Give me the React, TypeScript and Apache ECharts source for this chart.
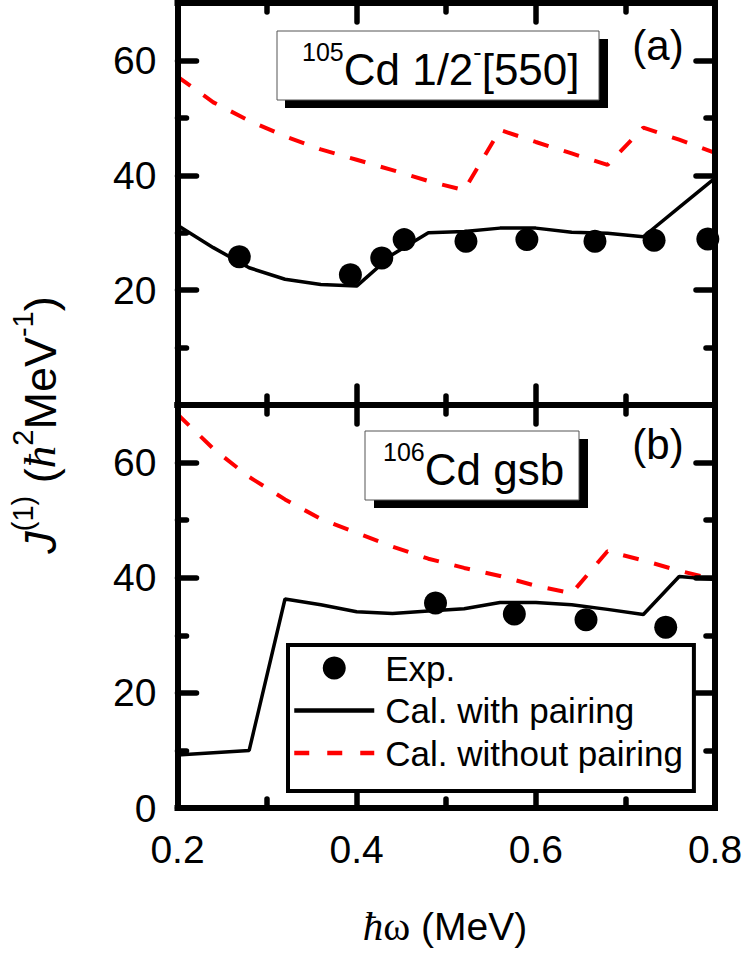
import React, { useEffect, useRef } from 'react';
import * as echarts from 'echarts';

// rotational frequency (MeV) of the calculated points
const omega = [0.20, 0.24, 0.28, 0.32, 0.36, 0.40, 0.44, 0.48, 0.52, 0.56, 0.60, 0.64, 0.68, 0.72, 0.76, 0.80];

// (a) 105Cd 1/2-[550]
const calPairA = [31.3, 27.4, 23.9, 21.9, 21.0, 20.7, 26.2, 30.0, 30.2, 30.8, 30.8, 30.1, 29.9, 29.3, 34.4, 39.5];
const calNoPairA = [57.2, 52.7, 49.5, 46.8, 44.5, 42.7, 40.9, 39.0, 37.4, 47.9, 45.8, 43.8, 41.8, 48.3, 46.2, 43.9];
const expOmegaA = [0.269, 0.393, 0.428, 0.453, 0.522, 0.590, 0.666, 0.732, 0.792];
const expJA = [25.8, 22.7, 25.6, 28.8, 28.5, 28.8, 28.5, 28.7, 28.9];

// (b) 106Cd gsb
const calPairB = [9.2, 9.6, 10.0, 36.3, 35.3, 34.1, 33.8, 34.2, 34.6, 35.7, 35.7, 35.3, 34.5, 33.6, 40.2, 39.7];
const calNoPairB = [68.4, 62.4, 57.5, 53.6, 50.2, 47.8, 45.4, 43.3, 41.7, 40.3, 38.6, 37.3, 44.6, 43.0, 41.2, 39.7];
const expOmegaB = [0.488, 0.576, 0.656, 0.745];
const expJB = [35.6, 33.7, 32.7, 31.4];

// ticks
const xMajor = [0.2, 0.4, 0.6, 0.8];
const xMinor = [0.3, 0.5, 0.7];
const yMajor = [0, 20, 40, 60];
const yMinor = [10, 30, 50];
const yLabelsA = [20, 40, 60];
const yLabelsB = [0, 20, 40, 60];

const seriesNames = ['Exp.', 'Cal. with pairing', 'Cal. without pairing'];

const FONT = "'Liberation Sans', Arial, sans-serif";
const SERIF = "'Liberation Serif', 'Times New Roman', serif";

const AXIS_W = 6;

function xAxisOf(g: number, pos: string, major: boolean, labels: boolean) {
  return {
    gridIndex: g,
    type: 'value',
    position: pos,
    min: 0.2,
    max: 0.8,
    z: major ? 10 : 9,
    axisLine: { show: major, onZero: false, lineStyle: { color: '#000', width: AXIS_W, cap: 'square' } },
    axisTick: {
      show: true,
      inside: true,
      length: major ? 19 : 9,
      customValues: major ? xMajor : xMinor,
      lineStyle: { color: '#000', width: 5.5, cap: 'round' },
    },
    axisLabel: {
      show: labels,
      customValues: xMajor,
      formatter: (v: number) => v.toFixed(1),
      fontSize: 39,
      color: '#000',
      fontFamily: FONT,
      margin: 22,
    },
    splitLine: { show: false },
  };
}

function yAxisOf(g: number, pos: string, major: boolean, labels: number[] | null) {
  return {
    gridIndex: g,
    type: 'value',
    position: pos,
    min: 0,
    max: 70,
    z: major ? 10 : 9,
    axisLine: { show: major, onZero: false, lineStyle: { color: '#000', width: AXIS_W, cap: 'square' } },
    axisTick: {
      show: true,
      inside: true,
      length: major ? 19 : 9,
      customValues: major ? yMajor : yMinor,
      lineStyle: { color: '#000', width: 5.5, cap: 'round' },
    },
    axisLabel: {
      show: !!labels,
      customValues: labels || yMajor,
      fontSize: 39,
      color: '#000',
      fontFamily: FONT,
      margin: 21,
    },
    splitLine: { show: false },
  };
}

function App() {
  const ref = useRef<HTMLDivElement>(null);

  useEffect(() => {
    const chart = echarts.init(ref.current as HTMLDivElement, null, { renderer: 'svg' });

    const xAxis: any[] = [];
    const yAxis: any[] = [];
    for (let g = 0; g < 2; g++) {
      xAxis.push(xAxisOf(g, 'bottom', true, g === 1));
      xAxis.push(xAxisOf(g, 'bottom', false, false));
      xAxis.push(xAxisOf(g, 'top', true, false));
      xAxis.push(xAxisOf(g, 'top', false, false));
      yAxis.push(yAxisOf(g, 'left', true, g === 0 ? yLabelsA : yLabelsB));
      yAxis.push(yAxisOf(g, 'left', false, null));
      yAxis.push(yAxisOf(g, 'right', true, null));
      yAxis.push(yAxisOf(g, 'right', false, null));
    }

    const panels = [
      { pair: calPairA, noPair: calNoPairA, ex: expOmegaA, ey: expJA },
      { pair: calPairB, noPair: calNoPairB, ex: expOmegaB, ey: expJB },
    ];

    const series: any[] = [];
    panels.forEach((p, g) => {
      series.push({
        type: 'line',
        name: seriesNames[1],
        xAxisIndex: g * 4,
        yAxisIndex: g * 4,
        data: omega.map((x, i) => [x, p.pair[i]]),
        symbol: 'none',
        showSymbol: false,
        lineStyle: { color: '#000', width: 3.5 },
        itemStyle: { color: '#000' },
        z: 3,
      });
      series.push({
        type: 'line',
        name: seriesNames[2],
        xAxisIndex: g * 4,
        yAxisIndex: g * 4,
        data: omega.map((x, i) => [x, p.noPair[i]]),
        symbol: 'none',
        showSymbol: false,
        lineStyle: { color: '#ff0000', width: 4, type: [16, 16] },
        itemStyle: { color: '#ff0000' },
        z: 3,
      });
      series.push({
        type: 'scatter',
        name: seriesNames[0],
        xAxisIndex: g * 4,
        yAxisIndex: g * 4,
        data: p.ex.map((x, i) => [x, p.ey[i]]),
        symbol: 'circle',
        symbolSize: 23,
        itemStyle: { color: '#000', opacity: 1 },
        z: 4,
      });
    });

    const richSup = (size: number) => ({ fontSize: size, fontFamily: FONT, fill: '#000', color: '#000', verticalAlign: 'top', lineHeight: size });

    const graphic: any[] = [
      // (a) label box
      { type: 'rect', z: 20, shape: { x: 285, y: 39, width: 323, height: 69 }, style: { fill: '#000' } },
      { type: 'rect', z: 21, shape: { x: 277, y: 31, width: 322, height: 69 }, style: { fill: '#fff', stroke: '#555', lineWidth: 1 } },
      {
        type: 'text', z: 22, x: 302, y: 69,
        style: {
          text: '{s|105}{m|Cd 1/2}{s|-}{m|[550]}',
          rich: { s: richSup(25), m: { fontSize: 44, fontFamily: FONT, fill: '#000', color: '#000', lineHeight: 60 } },
          align: 'left', verticalAlign: 'middle', textAlign: 'left', textVerticalAlign: 'middle',
        },
      },
      // (b) label box
      { type: 'rect', z: 20, shape: { x: 374, y: 439, width: 214, height: 69 }, style: { fill: '#000' } },
      { type: 'rect', z: 21, shape: { x: 365, y: 431, width: 214, height: 69 }, style: { fill: '#fff', stroke: '#555', lineWidth: 1 } },
      {
        type: 'text', z: 22, x: 383, y: 469,
        style: {
          text: '{s|106}{m|Cd gsb}',
          rich: { s: richSup(25), m: { fontSize: 44, fontFamily: FONT, fill: '#000', color: '#000', lineHeight: 60 } },
          align: 'left', verticalAlign: 'middle', textAlign: 'left', textVerticalAlign: 'middle',
        },
      },
      // panel tags
      {
        type: 'text', z: 22, x: 658, y: 45,
        style: { text: '(a)', fontSize: 42, fontFamily: FONT, fill: '#000', align: 'center', verticalAlign: 'middle', textAlign: 'center', textVerticalAlign: 'middle' },
      },
      {
        type: 'text', z: 22, x: 658, y: 444,
        style: { text: '(b)', fontSize: 42, fontFamily: FONT, fill: '#000', align: 'center', verticalAlign: 'middle', textAlign: 'center', textVerticalAlign: 'middle' },
      },
      // x axis title
      {
        type: 'text', z: 22, x: 445, y: 926,
        style: {
          text: '{h|ħ}{w|ω}{t| (MeV)}',
          rich: {
            h: { fontSize: 41, fontFamily: SERIF, fontStyle: 'italic', fill: '#000', color: '#000', lineHeight: 44 },
            w: { fontSize: 41, fontFamily: SERIF, fill: '#000', color: '#000', lineHeight: 44 },
            t: { fontSize: 39, fontFamily: FONT, fill: '#000', color: '#000', lineHeight: 44 },
          },
          align: 'center', verticalAlign: 'middle', textAlign: 'center', textVerticalAlign: 'middle',
        },
      },
      // y axis title
      {
        type: 'text', z: 22, x: 40, y: 425, rotation: Math.PI / 2,
        style: {
          text: '{j|J}{s|(1)}{t| (}{h|ħ}{s|2}{t|MeV}{s|-1}{t|)}',
          rich: {
            j: { fontSize: 45, fontFamily: FONT, fontStyle: 'italic', fill: '#000', color: '#000', lineHeight: 64 },
            h: { fontSize: 45, fontFamily: SERIF, fontStyle: 'italic', fill: '#000', color: '#000', lineHeight: 64 },
            t: { fontSize: 45, fontFamily: FONT, fill: '#000', color: '#000', lineHeight: 64 },
            s: richSup(29),
          },
          align: 'center', verticalAlign: 'middle', textAlign: 'center', textVerticalAlign: 'middle',
        },
      },
    ];

    const option: any = {
      animation: false,
      backgroundColor: '#fff',
      grid: [
        { left: 177.5, top: 3, width: 537.5, height: 402, containLabel: false },
        { left: 177.5, top: 405, width: 537.5, height: 403, containLabel: false },
      ],
      xAxis,
      yAxis,
      legend: {
        show: true,
        orient: 'vertical',
        left: 288,
        top: 645,
        itemWidth: 80,
        itemHeight: 23,
        itemGap: 6.5,
        padding: [5, 11, 20, 4],
        backgroundColor: '#fff',
        borderColor: '#000',
        borderWidth: 4,
        borderRadius: 0,
        z: 15,
        selectedMode: false,
        textStyle: { fontSize: 35, color: '#000', fontFamily: FONT, lineHeight: 36, padding: [0, 0, 0, 6] },
        data: [
          { name: seriesNames[0], itemStyle: { color: '#000', opacity: 1 } },
          { name: seriesNames[1], itemStyle: { opacity: 0 }, lineStyle: { width: 4.5, color: '#000' } },
          { name: seriesNames[2], itemStyle: { opacity: 0 }, lineStyle: { width: 4.5, color: '#ff0000', type: [15, 18] } },
        ],
      },
      series,
      graphic,
    };

    chart.setOption(option);
    return () => chart.dispose();
  }, []);

  return (
    <div
      ref={ref}
      style={{ position: 'fixed', left: 0, top: 0, width: 748, height: 958, background: '#fff' }}
    />
  );
}

export default App;
